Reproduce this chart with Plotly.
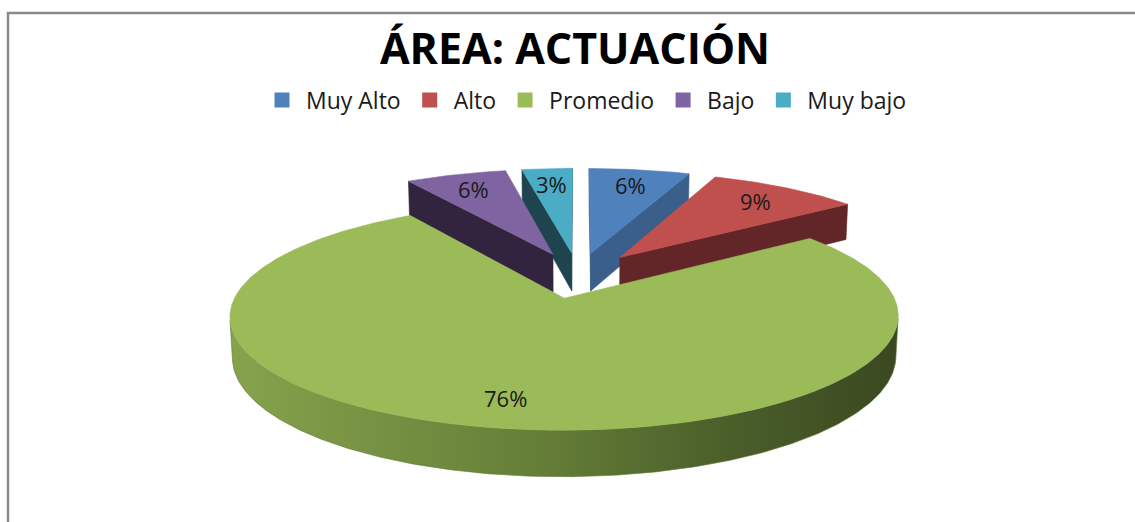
import numpy as np
import plotly.graph_objects as go

# ---- data ----
categories = ["Muy Alto", "Alto", "Promedio", "Bajo", "Muy bajo"]
values = [6, 9, 76, 6, 3]
pct_labels = ["6%", "9%", "76%", "6%", "3%"]
title_text = "ÁREA: ACTUACIÓN"

# ---- style ----
top_colors = ["#4F81BD", "#C0504D", "#9BBB59", "#8064A2", "#4BACC6"]
side_colors = ["#3A5F8B", "#632628", "#5E7A36", "#32243F", "#1E4450"]
green_side_scale = [[0, "#86A34C"], [0.45, "#667F38"], [0.75, "#4A5E2A"], [1, "#3A4820"]]

W, HGT = 1135, 522
CX, CY = 578, 275          # projected pie centre (px)
S = 319                    # radius scale (px)
D = 6.17                   # camera distance (in radii)
PHI = np.radians(19.0)     # tilt
THICK = 0.13               # pie thickness (in radii)
EXPLODE = 0.22
LABEL_R = 0.8

cosP, sinP = np.cos(PHI), np.sin(PHI)
cam = np.array([0.0, -D * cosP, D * sinP])


def proj(P):
    P = np.asarray(P, dtype=float)
    x, y, z = P[:, 0], P[:, 1], P[:, 2]
    depth = D + y * cosP - z * sinP
    up = y * sinP + z * cosP
    return CX + S * D * x / depth, CY - S * D * up / depth


fig = go.Figure()

total = float(sum(values))
bounds = np.concatenate([[0.0], np.cumsum(values)]) / total * 2 * np.pi

slices = []
for i in range(len(values)):
    t0, t1 = bounds[i], bounds[i + 1]
    tm = 0.5 * (t0 + t1)
    o = np.array([EXPLODE * np.sin(tm), EXPLODE * np.cos(tm), 0.0])
    slices.append((o[1], i, t0, t1, tm, o))

slices.sort(key=lambda s: -s[0])

annotations = []


def add_poly(P, color, grad=None):
    xs, ys = proj(P)
    kw = dict(x=np.append(xs, xs[0]), y=np.append(ys, ys[0]), mode="lines",
              fill="toself", line=dict(color=color, width=0.6),
              hoverinfo="skip", showlegend=False)
    if grad is not None:
        kw["fillgradient"] = dict(type="horizontal", colorscale=grad)
    else:
        kw["fillcolor"] = color
    fig.add_trace(go.Scatter(**kw))


for _, i, t0, t1, tm, o in slices:
    n = max(12, int(np.degrees(t1 - t0) * 1.5))
    th = np.linspace(t0, t1, n)
    dz = np.array([0, 0, -THICK])
    rim = np.stack([o[0] + np.sin(th), o[1] + np.cos(th), np.zeros_like(th)], axis=1)

    # radial faces
    for t, nrm in ((t0, np.array([-np.cos(t0), np.sin(t0), 0])),
                   (t1, np.array([np.cos(t1), -np.sin(t1), 0]))):
        if np.dot(nrm, cam - o) > 0:
            e = o + np.array([np.sin(t), np.cos(t), 0])
            add_poly([o, e, e + dz, o + dz], side_colors[i])

    # outer curved side (front facing part)
    vis = np.sin(th) * (cam[0] - rim[:, 0]) + np.cos(th) * (cam[1] - rim[:, 1]) > 0
    idx = np.where(vis)[0]
    if len(idx) > 1:
        seg = rim[idx[0]:idx[-1] + 1]
        P = np.concatenate([seg, (seg + dz)[::-1]])
        add_poly(P, side_colors[i], green_side_scale if categories[i] == "Promedio" else None)

    # top
    add_poly(np.concatenate([[o], rim]), top_colors[i])

    lp = o + LABEL_R * np.array([np.sin(tm), np.cos(tm), 0])
    lx, ly = proj([lp])
    annotations.append(dict(x=lx[0], y=ly[0], xref="x", yref="y", text=pct_labels[i],
                            showarrow=False, font=dict(family="Open Sans", size=22, color="#1a1a1a")))

# legend entries
for c, col in zip(categories, top_colors):
    fig.add_trace(go.Scatter(x=[None], y=[None], mode="markers", name=c,
                             marker=dict(symbol="square", size=15, color=col),
                             hoverinfo="skip", showlegend=True))

fig.update_layout(
    width=W, height=HGT,
    margin=dict(l=0, r=0, t=0, b=0),
    paper_bgcolor="white", plot_bgcolor="white",
    xaxis=dict(range=[0, W], visible=False, fixedrange=True),
    yaxis=dict(range=[HGT, 0], visible=False, fixedrange=True),
    title=dict(text="<b>" + title_text + "</b>", x=575 / W, xanchor="center",
               y=1 - 49 / HGT, yanchor="middle",
               font=dict(family="Open Sans", size=43, color="#000000")),
    legend=dict(orientation="h", x=585 / W, xanchor="center", y=1 - 100 / HGT, yanchor="middle",
                font=dict(family="Open Sans", size=23, color="#1a1a1a"), itemwidth=38,
                bgcolor="rgba(0,0,0,0)", itemclick=False, itemdoubleclick=False),
    annotations=annotations,
    shapes=[dict(type="rect", xref="paper", yref="paper", x0=8 / W, x1=1.05,
                 y0=-0.05, y1=1 - 13 / HGT, line=dict(color="#8a8a8a", width=2.5),
                 fillcolor="rgba(0,0,0,0)", layer="below")],
    showlegend=True,
    hovermode=False,
)

fig.write_html("out.html", config={"displayModeBar": False, "staticPlot": True},
               post_script="document.body.style.margin='0';document.body.style.overflow='hidden';")
